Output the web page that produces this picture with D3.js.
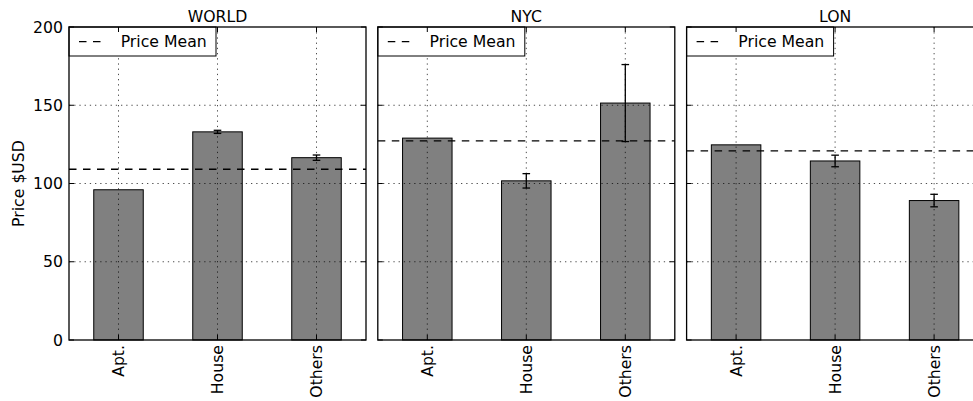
<!DOCTYPE html>
<html>
<head>
<meta charset="utf-8">
<script src="https://cdn.jsdelivr.net/npm/d3@7"></script>
<style>
  html, body { margin: 0; padding: 0; background: #fff; }
  svg { display: block; font-family: "DejaVu Sans", sans-serif; }
</style>
</head>
<body>
<svg id="chart" width="973" height="401"></svg>
<script>
// Property price by type, one panel per market
const categories = ["Apt.", "House", "Others"];
const markets = ["WORLD", "NYC", "LON"];

const worldPrice = [96.0, 133.0, 116.5];
const worldErr   = [0, 1.0, 1.7];
const worldMean  = 109.1;

const nycPrice = [129.0, 101.7, 151.4];
const nycErr   = [0, 4.6, 24.6];
const nycMean  = 127.3;

const lonPrice = [124.7, 114.4, 89.1];
const lonErr   = [0, 3.7, 4.0];
const lonMean  = 120.8;

const yTicks = [0, 50, 100, 150, 200];
const yLabel = "Price $USD";
const legendLabel = "Price Mean";

const panels = [
  { title: markets[0], values: worldPrice, errors: worldErr, mean: worldMean },
  { title: markets[1], values: nycPrice,   errors: nycErr,   mean: nycMean },
  { title: markets[2], values: lonPrice,   errors: lonErr,   mean: lonMean }
];

const svg = d3.select("#chart");
const plotTop = 27, plotBottom = 340;
const panelW = 297, panelStep = 308.8, firstLeft = 69;
const fontSize = 15.7;
const tickLen = 5;

const y = d3.scaleLinear().domain([0, 200]).range([plotBottom, plotTop]);

panels.forEach((p, i) => {
  const left = firstLeft + i * panelStep;
  const right = left + panelW;
  const x = d3.scaleBand().domain(categories).range([left, right])
    .paddingInner(0.5).paddingOuter(0.25);
  const g = svg.append("g");
  const cx = c => x(c) + x.bandwidth() / 2;

  // bars
  g.selectAll("rect.bar").data(categories).join("rect")
    .attr("class", "bar")
    .attr("x", c => x(c))
    .attr("width", x.bandwidth())
    .attr("y", (c, k) => y(p.values[k]))
    .attr("height", (c, k) => y(0) - y(p.values[k]))
    .attr("fill", "#808080")
    .attr("stroke", "#000")
    .attr("stroke-width", 1);

  // error bars (only where a spread exists)
  const withErr = categories.map((c, k) => ({ c, v: p.values[k], e: p.errors[k] }))
    .filter(d => d.e > 0);
  const eb = g.selectAll("g.err").data(withErr).join("g").attr("class", "err");
  eb.append("line")
    .attr("x1", d => cx(d.c)).attr("x2", d => cx(d.c))
    .attr("y1", d => y(d.v - d.e))
    .attr("y2", d => y(d.v + d.e))
    .attr("stroke", "#000").attr("stroke-width", 1.3);
  [-1, 1].forEach(s => {
    eb.append("line")
      .attr("x1", d => cx(d.c) - 3.8).attr("x2", d => cx(d.c) + 3.8)
      .attr("y1", d => y(d.v + s * d.e))
      .attr("y2", d => y(d.v + s * d.e))
      .attr("stroke", "#000").attr("stroke-width", 1.3);
  });

  // mean line
  g.append("line")
    .attr("x1", left).attr("x2", right)
    .attr("y1", y(p.mean)).attr("y2", y(p.mean))
    .attr("stroke", "#000").attr("stroke-width", 1.3)
    .attr("stroke-dasharray", "7.5,6.5");

  // grid
  const grid = g.append("g").attr("stroke", "#000").attr("stroke-width", 0.7)
    .attr("stroke-dasharray", "1.3,3.9");
  yTicks.filter(t => t > 0 && t < 200).forEach(t => {
    grid.append("line").attr("x1", left).attr("x2", right)
      .attr("y1", y(t)).attr("y2", y(t));
  });
  categories.forEach(c => {
    grid.append("line").attr("x1", cx(c)).attr("x2", cx(c))
      .attr("y1", plotTop).attr("y2", plotBottom);
  });

  // legend
  const lg = g.append("g");
  lg.append("rect").attr("x", left).attr("y", plotTop)
    .attr("width", 147).attr("height", 29)
    .attr("fill", "#fff").attr("stroke", "#000").attr("stroke-width", 1);
  lg.append("line").attr("x1", left + 10).attr("x2", left + 32)
    .attr("y1", plotTop + 14.7).attr("y2", plotTop + 14.7)
    .attr("stroke", "#000").attr("stroke-width", 1.3)
    .attr("stroke-dasharray", "7.5,6.5");
  lg.append("text").attr("x", left + 51.7).attr("y", plotTop + 19.8)
    .attr("font-size", fontSize).attr("fill", "#000").text(legendLabel);

  // frame
  g.append("rect").attr("x", left).attr("y", plotTop)
    .attr("width", panelW).attr("height", plotBottom - plotTop)
    .attr("fill", "none").attr("stroke", "#000").attr("stroke-width", 1.3);

  // inward ticks
  const ticks = g.append("g").attr("stroke", "#000").attr("stroke-width", 1);
  yTicks.forEach(t => {
    ticks.append("line").attr("x1", left).attr("x2", left + tickLen)
      .attr("y1", y(t)).attr("y2", y(t));
    ticks.append("line").attr("x1", right).attr("x2", right - tickLen)
      .attr("y1", y(t)).attr("y2", y(t));
  });
  categories.forEach(c => {
    ticks.append("line").attr("x1", cx(c)).attr("x2", cx(c))
      .attr("y1", plotBottom).attr("y2", plotBottom - tickLen);
    ticks.append("line").attr("x1", cx(c)).attr("x2", cx(c))
      .attr("y1", plotTop).attr("y2", plotTop + tickLen);
  });

  // category labels
  categories.forEach(c => {
    g.append("text")
      .attr("transform", `translate(${cx(c)},${plotBottom + 5}) rotate(-90)`)
      .attr("text-anchor", "end").attr("dy", "0.35em")
      .attr("font-size", fontSize).attr("fill", "#000").text(c);
  });

  // title
  g.append("text").attr("x", (left + right) / 2).attr("y", 21.7)
    .attr("text-anchor", "middle").attr("font-size", fontSize)
    .attr("fill", "#000").text(p.title);

  // y tick labels on first panel only
  if (i === 0) {
    yTicks.forEach(t => {
      g.append("text").attr("x", left - 6).attr("y", y(t)).attr("dy", "0.36em")
        .attr("text-anchor", "end").attr("font-size", fontSize)
        .attr("fill", "#000").text(t);
    });
    g.append("text")
      .attr("transform", `translate(24,${(plotTop + plotBottom) / 2}) rotate(-90)`)
      .attr("text-anchor", "middle").attr("font-size", fontSize)
      .attr("fill", "#000").text(yLabel);
  }
});
</script>
</body>
</html>
